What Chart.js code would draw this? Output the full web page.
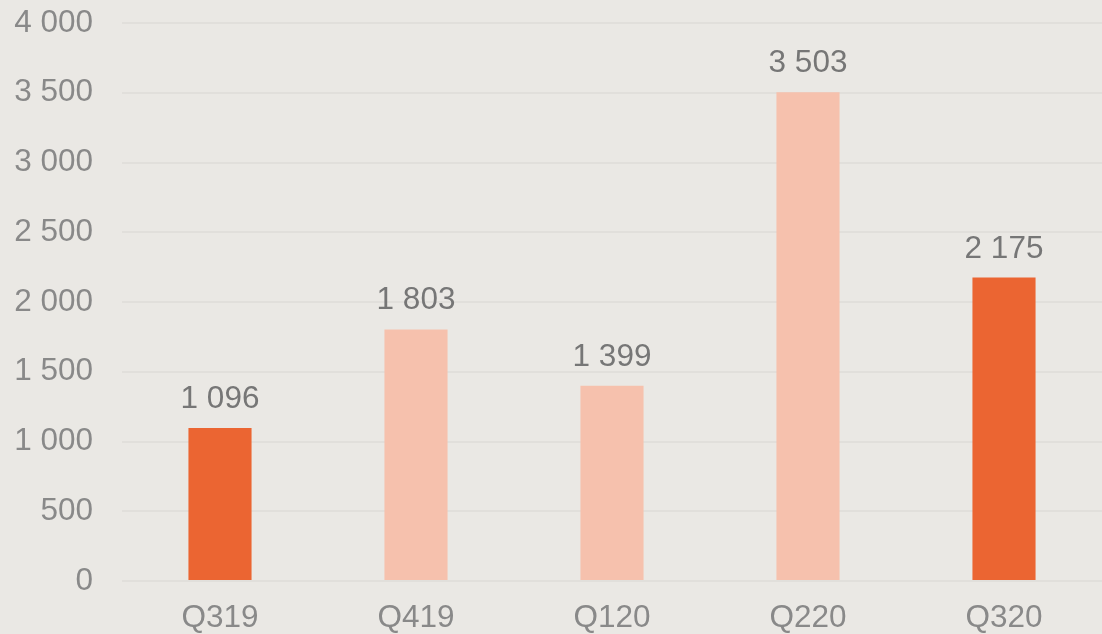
<!DOCTYPE html>
<html>
<head>
<meta charset="utf-8">
<script src="https://cdn.jsdelivr.net/npm/chart.js@4/dist/chart.umd.min.js"></script>
<style>
  html, body { margin: 0; padding: 0; background: #eae8e4; overflow: hidden; }
  #wrap { position: relative; width: 1102px; height: 634px; }
</style>
</head>
<body>
<div id="wrap"><canvas id="chart"></canvas></div>
<script>
var quarters = ["Q319", "Q419", "Q120", "Q220", "Q320"];
var values = [1096, 1803, 1399, 3503, 2175];
var barColors = ["#eb6532", "#f6c1ad", "#f6c1ad", "#f6c1ad", "#eb6532"];
var yTicks = [0, 500, 1000, 1500, 2000, 2500, 3000, 3500, 4000];

function spaced(v) {
  return String(v).replace(/\B(?=(\d{3})+(?!\d))/g, " ");
}

// draws the value above every bar
var valueLabels = {
  id: "valueLabels",
  afterDatasetsDraw: function(chart) {
    var ctx = chart.ctx;
    var meta = chart.getDatasetMeta(0);
    ctx.save();
    ctx.font = "31.5px 'Liberation Sans', Arial, sans-serif";
    ctx.fillStyle = "#767676";
    ctx.textAlign = "center";
    ctx.textBaseline = "alphabetic";
    meta.data.forEach(function(bar, i) {
      ctx.fillText(spaced(values[i]), bar.x, bar.y - 20);
    });
    ctx.restore();
  }
};

var ctx = document.getElementById("chart").getContext("2d");
new Chart(ctx, {
  type: "bar",
  data: {
    labels: quarters,
    datasets: [{
      data: values,
      backgroundColor: barColors,
      categoryPercentage: 1,
      barPercentage: 0.322
    }]
  },
  options: {
    responsive: true,
    maintainAspectRatio: false,
    animation: false,
    layout: { padding: { top: 0, right: 0, left: 0, bottom: 0 } },
    plugins: { legend: { display: false }, tooltip: { enabled: false } },
    scales: {
      x: {
        grid: { display: false, drawTicks: false },
        border: { display: false },
        ticks: {
          color: "#898989",
          font: { family: "'Liberation Sans', Arial, sans-serif", size: 31.5 },
          padding: 18,
          maxRotation: 0
        },
        afterFit: function(scale) { scale.height = 53; }
      },
      y: {
        min: 0,
        max: 4000,
        afterBuildTicks: function(scale) {
          scale.ticks = yTicks.map(function(v) { return { value: v }; });
        },
        grid: { color: "#e1dfdb", lineWidth: 2, drawTicks: false },
        border: { display: false },
        ticks: {
          color: "#898989",
          font: { family: "'Liberation Sans', Arial, sans-serif", size: 31.5 },
          padding: 29,
          callback: function(v) { return spaced(v); }
        },
        afterFit: function(scale) {
          scale.width = 122;
          scale.paddingTop = 23;
          scale.paddingBottom = 0;
        }
      }
    }
  },
  plugins: [valueLabels]
});
</script>
</body>
</html>
